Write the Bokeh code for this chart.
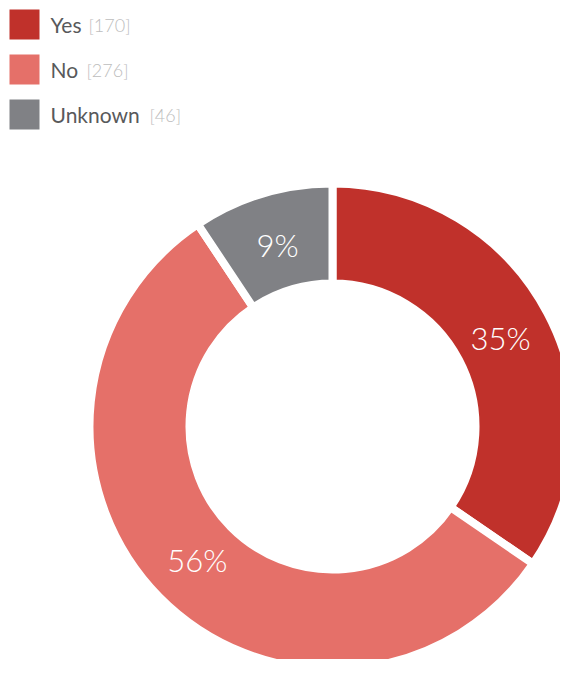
import math
from bokeh.plotting import figure
from bokeh.models import Range1d, ColumnDataSource
from bokeh.core.properties import value
from bokeh.embed import file_html
from bokeh.resources import INLINE

categories = ["Yes", "No", "Unknown"]
counts = [170, 276, 46]
colors = ["#C0312B", "#E57069", "#808185"]

# layout constants (pixels)
W, H = 560, 659
CX, CY = 332, -426
R_OUT, R_IN = 243, 143
LABEL_R = 190
FONT_LIGHT = "Lato Light, Lato"
FONT = "Lato"

total = sum(counts)
fracs = [c / total for c in counts]
starts, ends, label_x, label_y, pct = [], [], [], [], []
cum = 0.0
for f in fracs:
    a0 = math.pi / 2 - 2 * math.pi * (cum + f)
    a1 = math.pi / 2 - 2 * math.pi * cum
    starts.append(a0)
    ends.append(a1)
    mid = (a0 + a1) / 2
    label_x.append(CX + LABEL_R * math.cos(mid))
    label_y.append(CY + LABEL_R * math.sin(mid))
    pct.append(f"{round(100 * f)}%")
    cum += f

src = ColumnDataSource(dict(cat=categories, start=starts, end=ends, color=colors,
                            lx=label_x, ly=label_y, pct=pct))

p = figure(width=W, height=H, output_backend="svg", toolbar_location=None,
           x_range=Range1d(0, W), y_range=Range1d(-H, 0), min_border=0)
p.axis.visible = False
p.grid.visible = False
p.outline_line_color = None
p.background_fill_color = "white"

p.annular_wedge(x=CX, y=CY, inner_radius=R_IN, outer_radius=R_OUT,
                start_angle="start", end_angle="end", fill_color="color",
                line_color="white", line_width=8, source=src)
p.text(x="lx", y="ly", text="pct", source=src, text_color="white",
       text_font=value(FONT_LIGHT), text_font_size="31px",
       text_align="center", text_baseline="middle")

# legend
leg_y = [-24, -69, -114]
leg_x_box = 24
leg_x_text = 50
count_x = [88, 86, 149]
p.rect(x=[leg_x_box] * 3, y=leg_y, width=30, height=30, fill_color=colors,
       line_color=None)
p.text(x=[leg_x_text] * 3, y=leg_y, text=categories, text_color="#58595B",
       text_font=value(FONT), text_font_size="21px", text_baseline="middle")
p.text(x=count_x, y=leg_y, text=[f"[{c}]" for c in counts], text_color="#BDBDBD",
       text_font=value(FONT_LIGHT), text_font_size="18px", text_baseline="middle")

open("out.html", "w").write(file_html(p, INLINE))
